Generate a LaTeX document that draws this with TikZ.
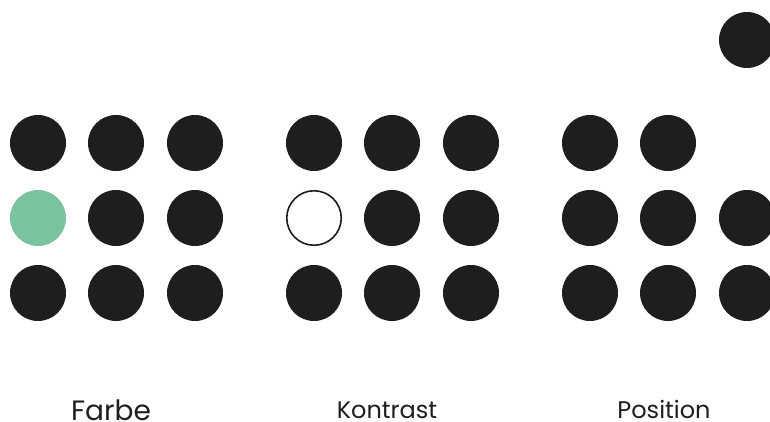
\documentclass[tikz,border=0pt]{standalone}
\usepackage{fontspec}
\setmainfont{Poppins}
\definecolor{dotblack}{HTML}{1E1E1C}
\definecolor{dotgreen}{HTML}{7BC39F}

\begin{document}
\begin{tikzpicture}[
  x=1pt, y=-1pt,
  dot/.style={circle,fill=dotblack,inner sep=0pt,minimum size=56pt},
  greendot/.style={dot,fill=dotgreen},
  emptydot/.style={circle,draw=dotblack,line width=1.6pt,fill=white,inner sep=0pt,minimum size=54.5pt},
  caption/.style={font=\fontsize{24}{28}\selectfont,text=dotblack,anchor=base,inner sep=0pt}
]
  \useasboundingbox[fill=white] (0,0) rectangle (770,422);

  % Farbe
  \node[dot]      (f11) at (38,143) {};
  \node[dot]      (f12) at (116,143) {};
  \node[dot]      (f13) at (195,143) {};
  \node[greendot] (f21) at (38,218) {};
  \node[dot]      (f22) at (116,218) {};
  \node[dot]      (f23) at (195,218) {};
  \node[dot]      (f31) at (38,293) {};
  \node[dot]      (f32) at (116,293) {};
  \node[dot]      (f33) at (195,293) {};

  % Kontrast
  \node[dot]      (k11) at (314,143) {};
  \node[dot]      (k12) at (392,143) {};
  \node[dot]      (k13) at (471,143) {};
  \node[emptydot] (k21) at (314,218) {};
  \node[dot]      (k22) at (392,218) {};
  \node[dot]      (k23) at (471,218) {};
  \node[dot]      (k31) at (314,293) {};
  \node[dot]      (k32) at (392,293) {};
  \node[dot]      (k33) at (471,293) {};

  % Position
  \node[dot]      (p13) at (747,40) {};
  \node[dot]      (p11) at (590,143) {};
  \node[dot]      (p12) at (668,143) {};
  \node[dot]      (p21) at (590,218) {};
  \node[dot]      (p22) at (668,218) {};
  \node[dot]      (p23) at (747,218) {};
  \node[dot]      (p31) at (590,293) {};
  \node[dot]      (p32) at (668,293) {};
  \node[dot]      (p33) at (747,293) {};

  \node[caption,font=\fontsize{28}{32}\selectfont] (farbe) at (111,420.5) {Farbe};
  \node[caption] (kontrast) at (387,418) {Kontrast};
  \node[caption] (position) at (664,418) {Position};
\end{tikzpicture}
\end{document}
